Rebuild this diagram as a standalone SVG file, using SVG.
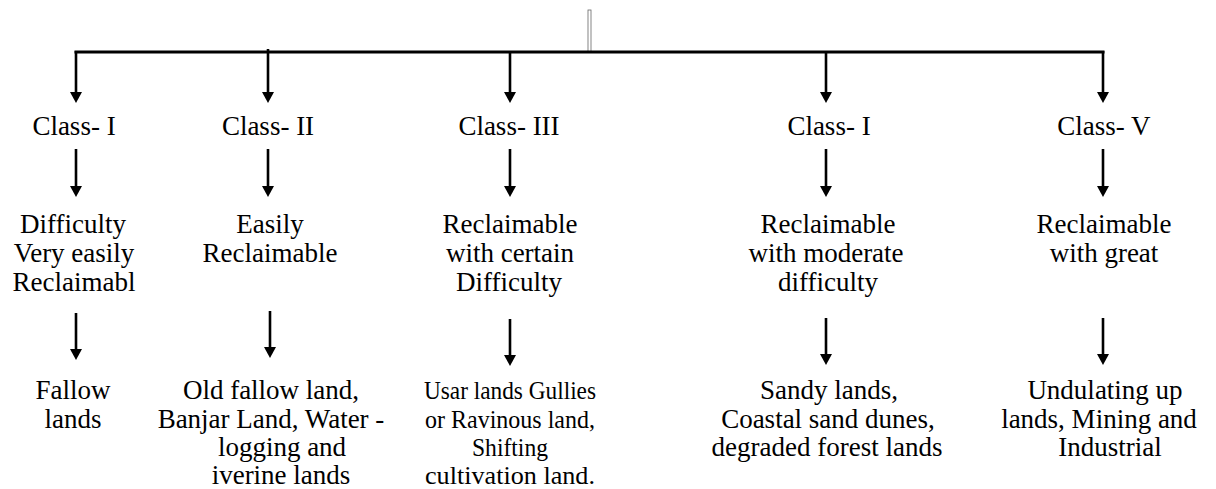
<svg xmlns="http://www.w3.org/2000/svg" width="1216" height="489" viewBox="0 0 1216 489">
<defs>
<marker id="ah" viewBox="0 0 11 12" markerWidth="11" markerHeight="12" markerUnits="userSpaceOnUse" refX="2" refY="6" orient="auto">
<path d="M0,0 L11,6 L0,12 Z" fill="#000"/>
</marker>
</defs>
<style>
.arr{stroke:#000;stroke-width:2.6;fill:none;marker-end:url(#ah)}
.bar{stroke:#000;stroke-width:3;fill:none}
</style>
<rect width="1216" height="489" fill="#fff"/>
<g id="connectors">
<rect x="588" y="10" width="3" height="42" fill="#fff" stroke="#666" stroke-width="0.8"/>
<line class="bar" x1="74.5" y1="52" x2="1104.5" y2="52"/>
<line class="arr" x1="76" y1="51" x2="76" y2="94"/>
<line class="arr" x1="268" y1="49" x2="268" y2="94"/>
<line class="arr" x1="510" y1="51" x2="510" y2="94"/>
<line class="arr" x1="826" y1="51" x2="826" y2="94"/>
<line class="arr" x1="1103" y1="51" x2="1103" y2="94"/>
<line class="arr" x1="76" y1="149" x2="76" y2="188"/>
<line class="arr" x1="268" y1="149" x2="268" y2="188"/>
<line class="arr" x1="510" y1="149" x2="510" y2="188"/>
<line class="arr" x1="826" y1="149" x2="826" y2="188"/>
<line class="arr" x1="1103" y1="149" x2="1103" y2="188"/>
<line class="arr" x1="76" y1="313" x2="76" y2="351"/>
<line class="arr" x1="270" y1="311" x2="270" y2="349"/>
<line class="arr" x1="510" y1="319" x2="510" y2="357"/>
<line class="arr" x1="826" y1="318" x2="826" y2="356"/>
<line class="arr" x1="1103" y1="318" x2="1103" y2="356"/>
</g>
<g font-family="Liberation Serif, serif" font-size="27" text-anchor="middle" fill="#000">
<g id="class1"><text x="74" y="135">Class- I</text></g>
<g id="class2"><text x="268" y="135">Class- II</text></g>
<g id="class3"><text x="509" y="135">Class- III</text></g>
<g id="class4"><text x="829" y="135">Class- I</text></g>
<g id="class5"><text x="1104" y="135">Class- V</text></g>
<g id="desc1"><text x="73" y="233">Difficulty</text><text x="74" y="262">Very easily</text><text x="74" y="291">Reclaimabl</text></g>
<g id="desc2"><text x="270" y="233">Easily</text><text x="270" y="262">Reclaimable</text></g>
<g id="desc3"><text x="510" y="233">Reclaimable</text><text x="510" y="262">with certain</text><text x="509" y="291">Difficulty</text></g>
<g id="desc4"><text x="828" y="233">Reclaimable</text><text x="826" y="262">with moderate</text><text x="828" y="291">difficulty</text></g>
<g id="desc5"><text x="1104" y="233">Reclaimable</text><text x="1104" y="262">with great</text></g>
<g id="land1"><text x="73" y="399">Fallow</text><text x="73" y="427.5">lands</text></g>
<g id="land2"><text x="271" y="399">Old fallow land,</text><text x="271" y="427.5">Banjar Land, Water -</text><text x="282" y="456">logging and</text><text x="281" y="484">iverine lands</text></g>
<g id="land3" font-size="26"><text x="510" y="399" textLength="172" lengthAdjust="spacingAndGlyphs">Usar lands Gullies</text><text x="510" y="427.5" textLength="170" lengthAdjust="spacingAndGlyphs">or Ravinous land,</text><text x="510" y="456" textLength="76" lengthAdjust="spacingAndGlyphs">Shifting</text><text x="510" y="484" textLength="170" lengthAdjust="spacingAndGlyphs">cultivation land.</text></g>
<g id="land4"><text x="829" y="399">Sandy lands,</text><text x="828" y="427.5">Coastal sand dunes,</text><text x="827" y="456">degraded forest lands</text></g>
<g id="land5"><text x="1105" y="399">Undulating up</text><text x="1099" y="427.5">lands, Mining and</text><text x="1110" y="456">Industrial</text></g>
</g>
</svg>
